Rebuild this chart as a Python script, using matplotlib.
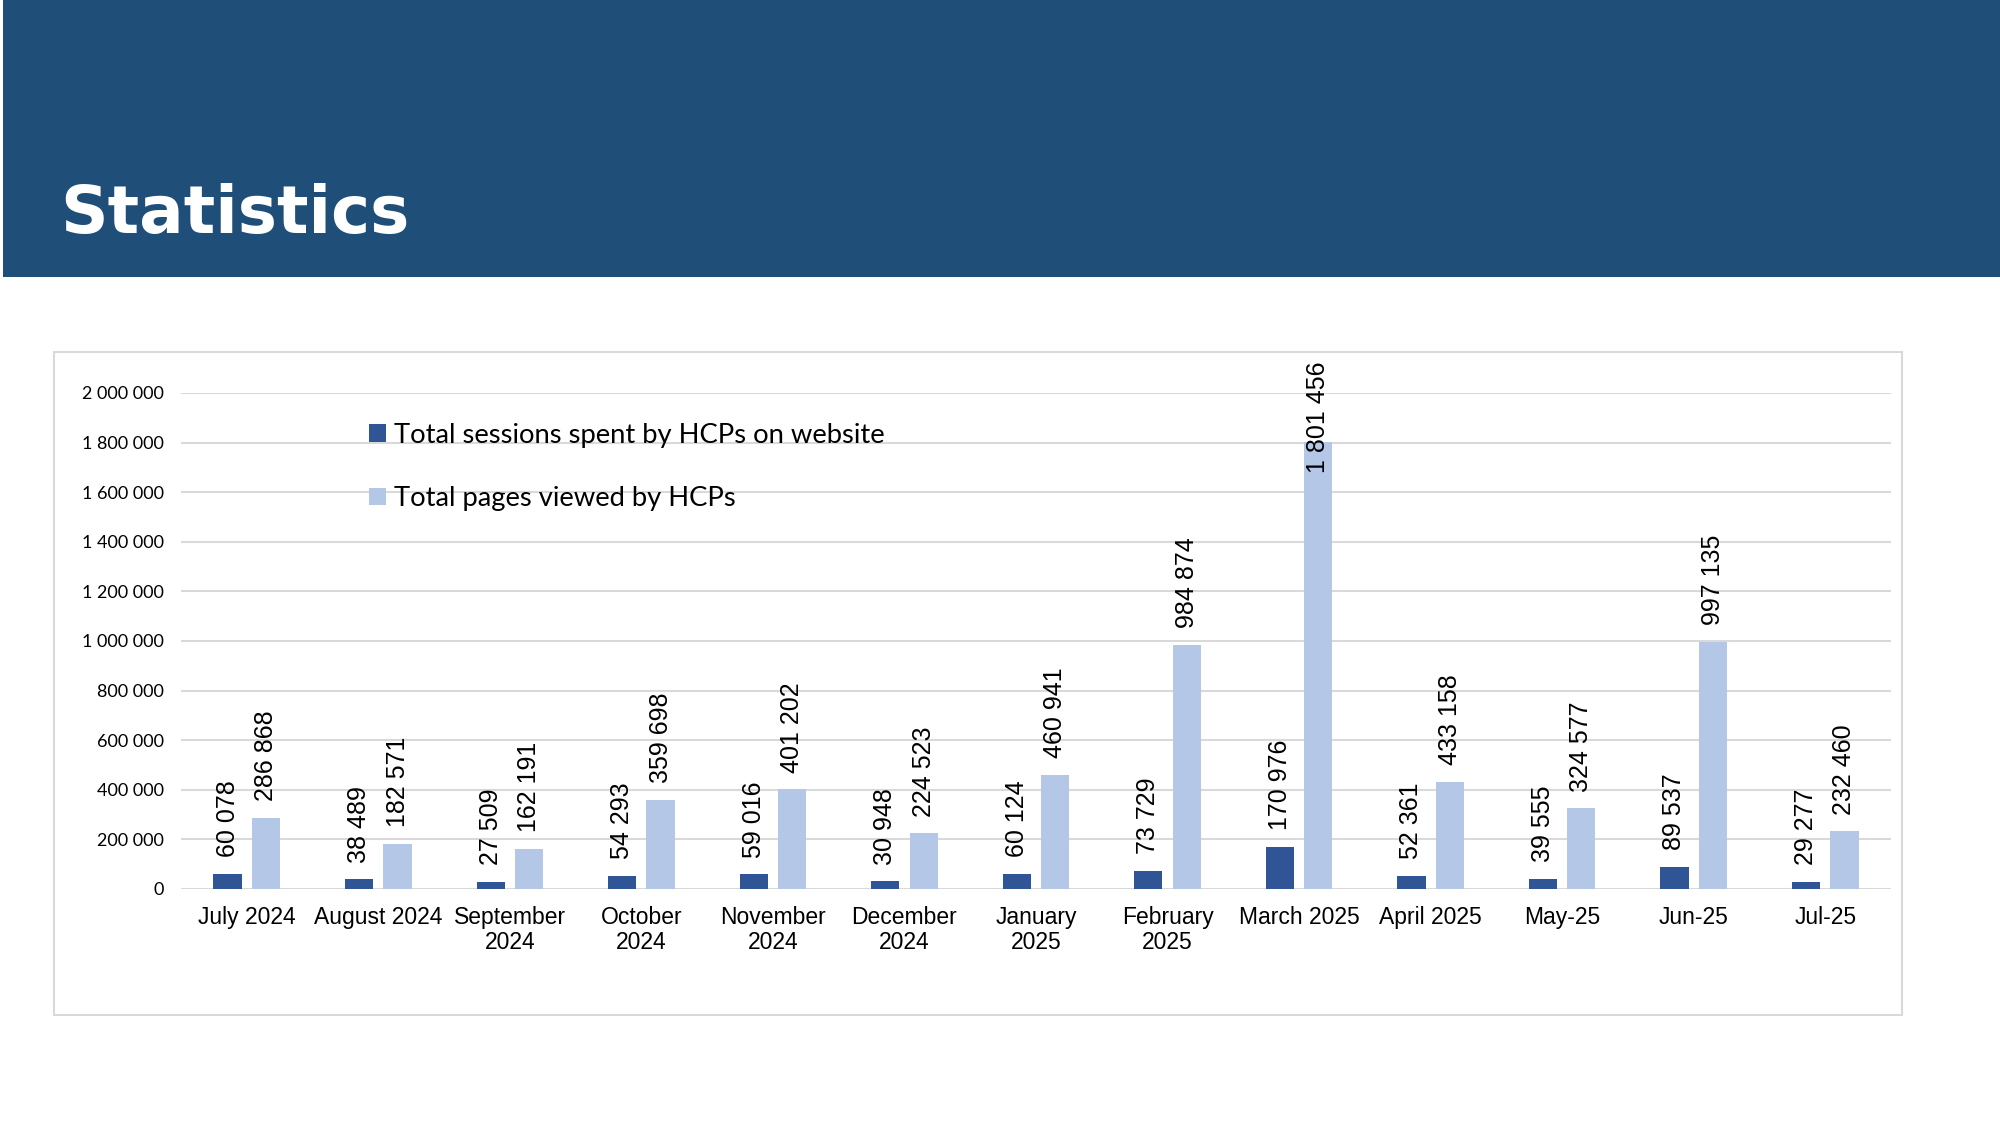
import numpy as np
import matplotlib
matplotlib.use("Agg")
import matplotlib.pyplot as plt
from matplotlib.patches import Rectangle

# data
months = ["July 2024", "August 2024", "September\n2024", "October\n2024",
          "November\n2024", "December\n2024", "January\n2025", "February\n2025",
          "March 2025", "April 2025", "May-25", "Jun-25", "Jul-25"]
sessions = [60078, 38489, 27509, 54293, 59016, 30948, 60124, 73729,
            170976, 52361, 39555, 89537, 29277]
pages = [286868, 182571, 162191, 359698, 401202, 224523, 460941, 984874,
         1801456, 433158, 324577, 997135, 232460]
y_ticks = [0, 200000, 400000, 600000, 800000, 1000000, 1200000,
           1400000, 1600000, 1800000, 2000000]

DARK = "#2F5597"
LIGHT = "#B4C7E7"
GRID = "#D9D9D9"
HEADER = "#1F4E79"


def fmt(v):
    return f"{v:,.0f}".replace(",", " ")


fig = plt.figure(figsize=(20, 11.25), dpi=100)

# title band
fig.patches.append(Rectangle((0.0015, 0.754), 0.9985, 0.246, transform=fig.transFigure,
                             facecolor=HEADER, edgecolor="none", zorder=-2))
fig.text(0.030, 0.793, "Statistics", color="white", fontsize=47.5, fontweight="bold",
         family="DejaVu Sans", ha="left", va="baseline", zorder=5)

# chart frame
fig.patches.append(Rectangle((0.027, 0.0978), 0.924, 0.589, transform=fig.transFigure,
                             facecolor="white", edgecolor=GRID, linewidth=1.5, zorder=-2))

ax = fig.add_axes([0.0905, 0.2098, 0.855, 0.4409])
ax.set_zorder(2)
ax.set_facecolor("none")

x = np.arange(len(months))
w = 0.215
off = 0.146
ax.bar(x - off, sessions, width=w, color=DARK, label="Total sessions spent by HCPs on website", zorder=3)
ax.bar(x + off, pages, width=w, color=LIGHT, label="Total pages viewed by HCPs", zorder=3)

ax.set_xlim(-0.5, len(months) - 0.5)
ax.set_ylim(0, 2000000)
ax.set_yticks(y_ticks)
ax.set_yticklabels([fmt(v) for v in y_ticks], family="Lato", fontsize=13)
ax.set_xticks(x)
ax.set_xticklabels(months, family="Liberation Sans", fontsize=16.5, linespacing=1.15)
ax.tick_params(axis="y", length=0, pad=12)
ax.tick_params(axis="x", length=0, pad=12)
ax.grid(axis="y", color=GRID, linewidth=1.5, zorder=0)
ax.set_axisbelow(True)
for s in ax.spines.values():
    s.set_visible(False)

# data labels
for xs, vals in ((x - off, sessions), (x + off, pages)):
    for xi, v in zip(xs, vals):
        if v > 0.8 * 2000000:
            # too tall: keep label inside the chart frame, as Excel does
            ax.annotate(fmt(v), xy=(xi, 1.0), xycoords=("data", "axes fraction"),
                        xytext=(0, 23), textcoords="offset points", rotation=90,
                        ha="center", va="top", fontsize=18, family="Liberation Sans",
                        annotation_clip=False, zorder=4)
        else:
            ax.annotate(fmt(v), xy=(xi, v), xytext=(0, 12), textcoords="offset points",
                        rotation=90, ha="center", va="bottom", fontsize=18,
                        family="Liberation Sans", zorder=4)

leg = ax.legend(loc="upper left", bbox_to_anchor=(0.11, 0.94), frameon=False,
                prop={"family": "Lato", "size": 19.7}, handlelength=0.6, handleheight=0.6,
                handletextpad=0.3, labelspacing=1.4, borderpad=0, borderaxespad=0)

fig.savefig("out.png", dpi=100)
